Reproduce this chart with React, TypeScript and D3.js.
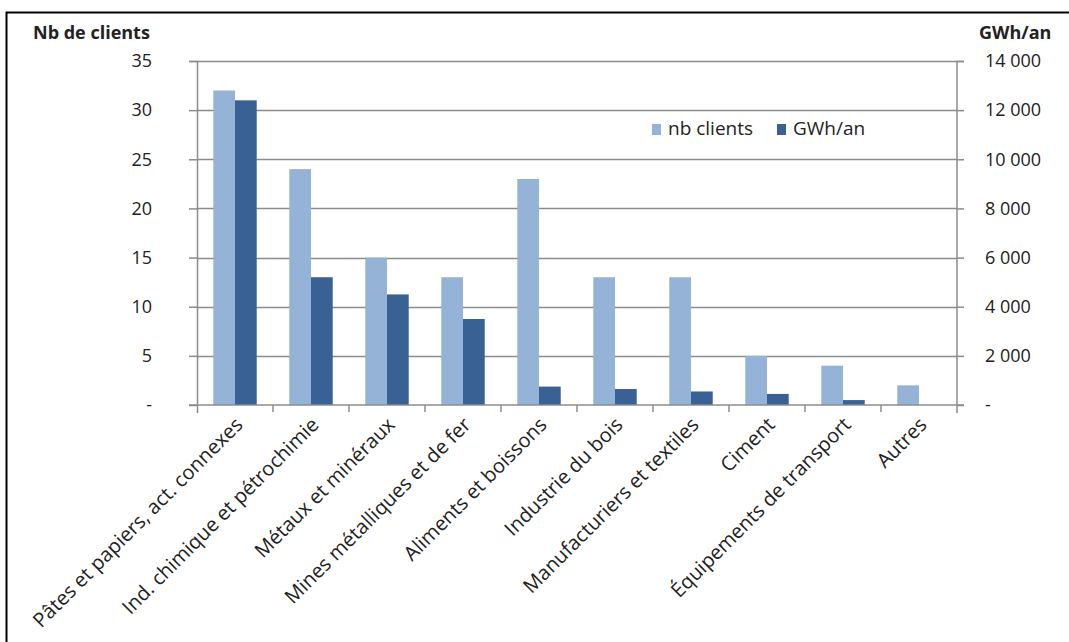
import { useEffect, useRef } from "react"
import * as d3 from "d3"

const categories = [
    "Pâtes et papiers, act. connexes",
    "Ind. chimique et pétrochimie",
    "Métaux et minéraux",
    "Mines métalliques et de fer",
    "Aliments et boissons",
    "Industrie du bois",
    "Manufacturiers et textiles",
    "Ciment",
    "Équipements de transport",
    "Autres",
]
const nbClients = [32, 24, 15, 13, 23, 13, 13, 5, 4, 2]
const gwhAn = [12400, 5200, 4500, 3500, 750, 650, 550, 450, 200, 0]
const leftTicks = [0, 5, 10, 15, 20, 25, 30, 35]
const rightTicks = [0, 2000, 4000, 6000, 8000, 10000, 12000, 14000]
const seriesNames = ["nb clients", "GWh/an"]

const W = 1069
const H = 642
const FONT = "'Open Sans', 'DejaVu Sans', sans-serif"
const LIGHT = "#95b3d7"
const DARK = "#3a6194"
const GRID = "#8c8c8c"
const TEXT = "#222"

export default function App() {
    const svgRef = useRef<SVGSVGElement | null>(null)

    useEffect(() => {
        if (!svgRef.current) return
        const svg = d3.select(svgRef.current)
        svg.selectAll("*").remove()

        const margin = { top: 61, right: 112, bottom: 237, left: 197 }
        const innerWidth = W - margin.left - margin.right
        const innerHeight = H - margin.top - margin.bottom

        // frame
        svg.append("rect").attr("width", W).attr("height", H).attr("fill", "#fff")
        svg.append("path")
            .attr("d", `M6.5,${H} V12.5 H${W}`)
            .attr("fill", "none")
            .attr("stroke", "#000")
            .attr("stroke-width", 2)

        const g = svg.append("g").attr("transform", `translate(${margin.left},${margin.top})`)

        const x0 = d3.scaleBand<string>().domain(categories).range([0, innerWidth]).paddingInner(0).paddingOuter(0)
        const x1 = d3.scaleBand<string>().domain(seriesNames).range([0, x0.bandwidth()]).paddingOuter(0.75).paddingInner(0)
        const yLeft = d3.scaleLinear().domain([0, 35]).range([innerHeight, 0])
        const yRight = d3.scaleLinear().domain([0, 14000]).range([innerHeight, 0])

        // gridlines
        g.append("g")
            .selectAll("line")
            .data(leftTicks.filter((d) => d > 0))
            .enter()
            .append("line")
            .attr("x1", 0)
            .attr("x2", innerWidth)
            .attr("y1", (d) => Math.round(yLeft(d)) + 0.5)
            .attr("y2", (d) => Math.round(yLeft(d)) + 0.5)
            .attr("stroke", GRID)
            .attr("stroke-width", 1.5)

        // bars
        const groups = g.append("g")
            .selectAll("g")
            .data(categories)
            .enter()
            .append("g")
            .attr("transform", (d) => `translate(${x0(d)},0)`)

        groups.append("rect")
            .attr("x", x1("nb clients")!)
            .attr("y", (_, i) => yLeft(nbClients[i]))
            .attr("width", x1.bandwidth())
            .attr("height", (_, i) => innerHeight - yLeft(nbClients[i]))
            .attr("fill", LIGHT)

        groups.append("rect")
            .attr("x", x1("GWh/an")!)
            .attr("y", (_, i) => yRight(gwhAn[i]))
            .attr("width", x1.bandwidth())
            .attr("height", (_, i) => innerHeight - yRight(gwhAn[i]))
            .attr("fill", DARK)

        const fmtRight = (d: number) => (d === 0 ? "-" : d3.format(",")(d).replace(",", " "))
        const fmtLeft = (d: number) => (d === 0 ? "-" : String(d))

        // left axis
        const leftAxis = g.append("g").call(
            d3.axisLeft(yLeft).tickValues(leftTicks).tickSize(8).tickPadding(37).tickFormat((d) => fmtLeft(+d))
        )
        leftAxis.select(".domain").attr("stroke", GRID).attr("stroke-width", 1.5).attr("d", `M-8,0.5H0.5V${innerHeight + 8}`)
        leftAxis.selectAll(".tick line").attr("stroke", GRID).attr("stroke-width", 1.5)
        leftAxis.selectAll("text").attr("font-family", FONT).attr("font-size", 18).attr("fill", TEXT)

        // right axis
        const rightAxis = g.append("g")
            .attr("transform", `translate(${innerWidth},0)`)
            .call(d3.axisRight(yRight).tickValues(rightTicks).tickSize(7).tickPadding(21).tickFormat((d) => fmtRight(+d)))
        rightAxis.select(".domain").attr("stroke", GRID).attr("stroke-width", 1.5).attr("d", `M7,0.5H0V${innerHeight + 8}`)
        rightAxis.selectAll(".tick line").attr("stroke", GRID).attr("stroke-width", 1.5)
        rightAxis.selectAll("text").attr("font-family", FONT).attr("font-size", 18).attr("fill", TEXT)

        // x axis baseline with category ticks
        g.append("line")
            .attr("x1", -8).attr("x2", innerWidth + 7)
            .attr("y1", innerHeight).attr("y2", innerHeight)
            .attr("stroke", GRID).attr("stroke-width", 1.5)
        g.append("g")
            .selectAll("line")
            .data(categories.slice(1))
            .enter()
            .append("line")
            .attr("x1", (d) => x0(d)!)
            .attr("x2", (d) => x0(d)!)
            .attr("y1", innerHeight)
            .attr("y2", innerHeight + 7)
            .attr("stroke", GRID).attr("stroke-width", 1.5)

        // category labels
        g.append("g")
            .selectAll("text")
            .data(categories)
            .enter()
            .append("text")
            .attr("transform", (d) => `translate(${x0(d)! + x0.bandwidth() / 2 + 9},${innerHeight + 21}) rotate(-45)`)
            .attr("text-anchor", "end")
            .attr("font-family", FONT)
            .attr("font-size", 20)
            .attr("fill", TEXT)
            .text((d) => d)

        // axis titles
        svg.append("text")
            .attr("x", 33).attr("y", 39)
            .attr("font-family", FONT).attr("font-size", 18).attr("font-weight", "bold")
            .attr("fill", TEXT)
            .text("Nb de clients")
        svg.append("text")
            .attr("x", 979).attr("y", 39)
            .attr("font-family", FONT).attr("font-size", 18).attr("font-weight", "bold")
            .attr("fill", TEXT)
            .text("GWh/an")

        // legend
        const legend = svg.append("g").attr("transform", "translate(652,124)")
        const items = [
            { name: seriesNames[0], color: LIGHT, x: 0 },
            { name: seriesNames[1], color: DARK, x: 125 },
        ]
        const li = legend.selectAll("g").data(items).enter().append("g").attr("transform", (d) => `translate(${d.x},0)`)
        li.append("rect").attr("width", 9).attr("height", 11).attr("fill", (d) => d.color)
        li.append("text")
            .attr("x", 16).attr("y", 11)
            .attr("font-family", FONT).attr("font-size", 19).attr("fill", TEXT)
            .text((d) => d.name)
    }, [])

    return (
        <div style={{ position: "absolute", left: 0, top: 0, width: W, height: H }}>
            <svg ref={svgRef} width={W} height={H} />
        </div>
    )
}
